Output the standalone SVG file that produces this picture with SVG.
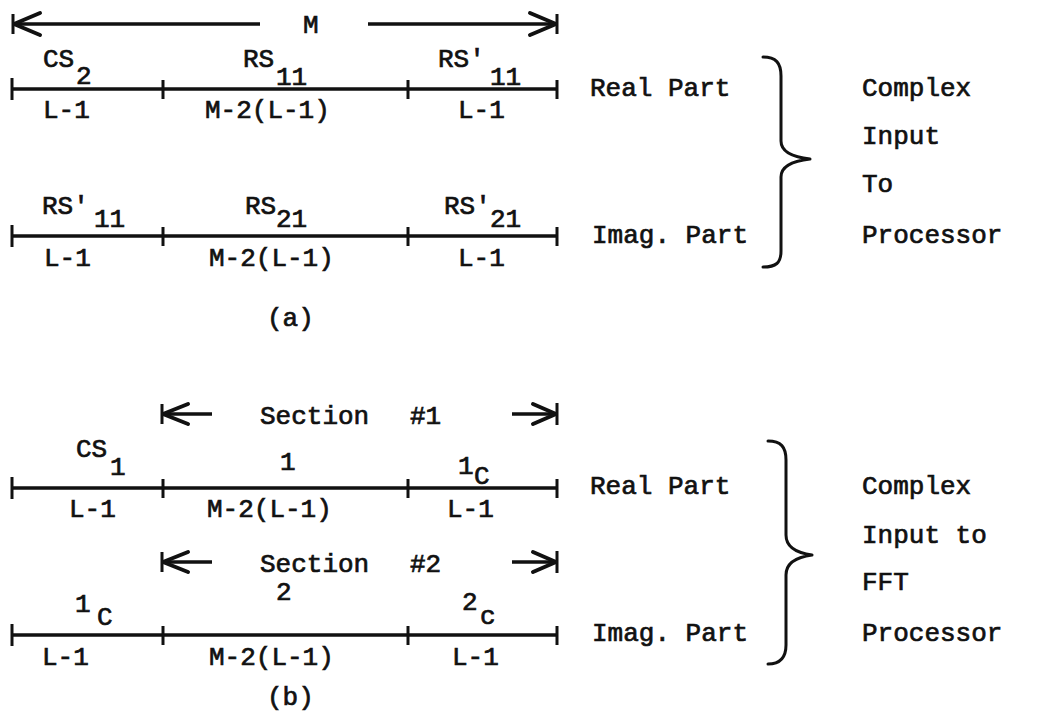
<svg xmlns="http://www.w3.org/2000/svg" width="1040" height="726" viewBox="0 0 1040 726">
<style>
text{font-family:"Liberation Mono","Courier New",monospace;font-size:26px;fill:#111;stroke:#111;stroke-width:0.7}
.ln{stroke:#111;stroke-width:3.5;fill:none}
.tk{stroke:#111;stroke-width:3;fill:none}
.ah{stroke:#111;stroke-width:4;fill:none;stroke-linejoin:round;stroke-linecap:round}
.br{stroke:#111;stroke-width:3;fill:none;stroke-linecap:round;stroke-linejoin:round}
</style>
<rect width="1040" height="726" fill="#fff"/>
<g id="connectors">
  <!-- M dimension arrow -->
  <line class="ln" x1="14" y1="24" x2="260" y2="24"/>
  <polyline class="ah" points="40,13 14,24 40,35"/>
  <line class="tk" x1="13" y1="14" x2="13" y2="34"/>
  <line class="ln" x1="368" y1="24" x2="556" y2="24"/>
  <polyline class="ah" points="530,13 556,24 530,35"/>
  <line class="tk" x1="557" y1="14" x2="557" y2="34"/>
  <!-- row 1 -->
  <line class="ln" x1="12" y1="89" x2="557" y2="89"/>
  <line class="tk" x1="12" y1="78" x2="12" y2="100"/>
  <line class="tk" x1="163" y1="80" x2="163" y2="99"/>
  <line class="tk" x1="408" y1="80" x2="408" y2="99"/>
  <line class="tk" x1="557" y1="80" x2="557" y2="99"/>
  <!-- row 2 -->
  <line class="ln" x1="12" y1="236" x2="557" y2="236"/>
  <line class="tk" x1="12" y1="225" x2="12" y2="247"/>
  <line class="tk" x1="163" y1="227" x2="163" y2="246"/>
  <line class="tk" x1="408" y1="227" x2="408" y2="246"/>
  <line class="tk" x1="557" y1="227" x2="557" y2="246"/>
  <!-- section 1 arrows -->
  <line class="ln" x1="163" y1="414" x2="212" y2="414"/>
  <polyline class="ah" points="188,404 163,414 188,424"/>
  <line class="tk" x1="162" y1="404" x2="162" y2="424"/>
  <line class="ln" x1="512" y1="414" x2="556" y2="414"/>
  <polyline class="ah" points="533,404 556,414 533,424"/>
  <line class="tk" x1="557" y1="403" x2="557" y2="425"/>
  <!-- row 3 -->
  <line class="ln" x1="12" y1="488" x2="557" y2="488"/>
  <line class="tk" x1="12" y1="477" x2="12" y2="499"/>
  <line class="tk" x1="163" y1="479" x2="163" y2="498"/>
  <line class="tk" x1="408" y1="479" x2="408" y2="498"/>
  <line class="tk" x1="557" y1="479" x2="557" y2="498"/>
  <!-- section 2 arrows -->
  <line class="ln" x1="163" y1="562" x2="212" y2="562"/>
  <polyline class="ah" points="188,552 163,562 188,572"/>
  <line class="tk" x1="162" y1="552" x2="162" y2="572"/>
  <line class="ln" x1="512" y1="562" x2="556" y2="562"/>
  <polyline class="ah" points="533,552 556,562 533,572"/>
  <line class="tk" x1="557" y1="551" x2="557" y2="573"/>
  <!-- row 4 -->
  <line class="ln" x1="12" y1="635" x2="557" y2="635"/>
  <line class="tk" x1="12" y1="624" x2="12" y2="646"/>
  <line class="tk" x1="163" y1="626" x2="163" y2="645"/>
  <line class="tk" x1="408" y1="626" x2="408" y2="645"/>
  <line class="tk" x1="557" y1="626" x2="557" y2="645"/>
  <!-- braces -->
  <path class="br" d="M763 57 C776 57 781 63 781 76 L781 141 C781 151 792 157 810 159 C792 161 781 167 781 177 L781 251 C781 263 776 267 763 267"/>
  <path class="br" d="M768 441 C781 441 786 447 786 460 L786 535 C786 547 797 553 812 555 C797 557 786 563 786 575 L786 645 C786 657 781 664 768 664"/>
</g>
<g id="label-M"><text x="303" y="33">M</text></g>
<g id="row1">
  <text x="43" y="67">CS</text><text x="76" y="84">2</text>
  <text x="243" y="67">RS</text><text x="276" y="85">11</text>
  <text x="438" y="67">RS'</text><text x="490" y="85">11</text>
  <text x="43" y="118">L-1</text>
  <text x="205" y="118">M-2(L-1)</text>
  <text x="458" y="118">L-1</text>
  <text x="590" y="96">Real Part</text>
</g>
<g id="row2">
  <text x="42" y="214">RS'</text><text x="94" y="227">11</text>
  <text x="245" y="214">RS</text><text x="276" y="227">21</text>
  <text x="444" y="214">RS'</text><text x="490" y="227">21</text>
  <text x="44" y="266">L-1</text>
  <text x="209" y="266">M-2(L-1)</text>
  <text x="458" y="266">L-1</text>
  <text x="592" y="243">Imag. Part</text>
</g>
<g id="result-a">
  <text x="862" y="96">Complex</text>
  <text x="862" y="144">Input</text>
  <text x="862" y="192">To</text>
  <text x="862" y="243">Processor</text>
</g>
<g id="caption-a"><text x="267" y="326">(a)</text></g>
<g id="section1"><text x="260" y="424">Section</text><text x="410" y="424">#1</text></g>
<g id="row3">
  <text x="76" y="457">CS</text><text x="110" y="475">1</text>
  <text x="280" y="470">1</text>
  <text x="458" y="474">1</text><text x="474" y="484">C</text>
  <text x="69" y="517">L-1</text>
  <text x="207" y="517">M-2(L-1)</text>
  <text x="447" y="517">L-1</text>
  <text x="590" y="494">Real Part</text>
</g>
<g id="section2"><text x="260" y="572">Section</text><text x="410" y="572">#2</text></g>
<g id="row4">
  <text x="75" y="612">1</text><text x="97" y="625">C</text>
  <text x="276" y="600">2</text>
  <text x="462" y="610">2</text><text x="480" y="624">c</text>
  <text x="42" y="665">L-1</text>
  <text x="209" y="665">M-2(L-1)</text>
  <text x="452" y="665">L-1</text>
  <text x="592" y="641">Imag. Part</text>
</g>
<g id="result-b">
  <text x="862" y="494">Complex</text>
  <text x="862" y="543">Input to</text>
  <text x="862" y="590">FFT</text>
  <text x="862" y="641">Processor</text>
</g>
<g id="caption-b"><text x="267" y="705">(b)</text></g>
</svg>
